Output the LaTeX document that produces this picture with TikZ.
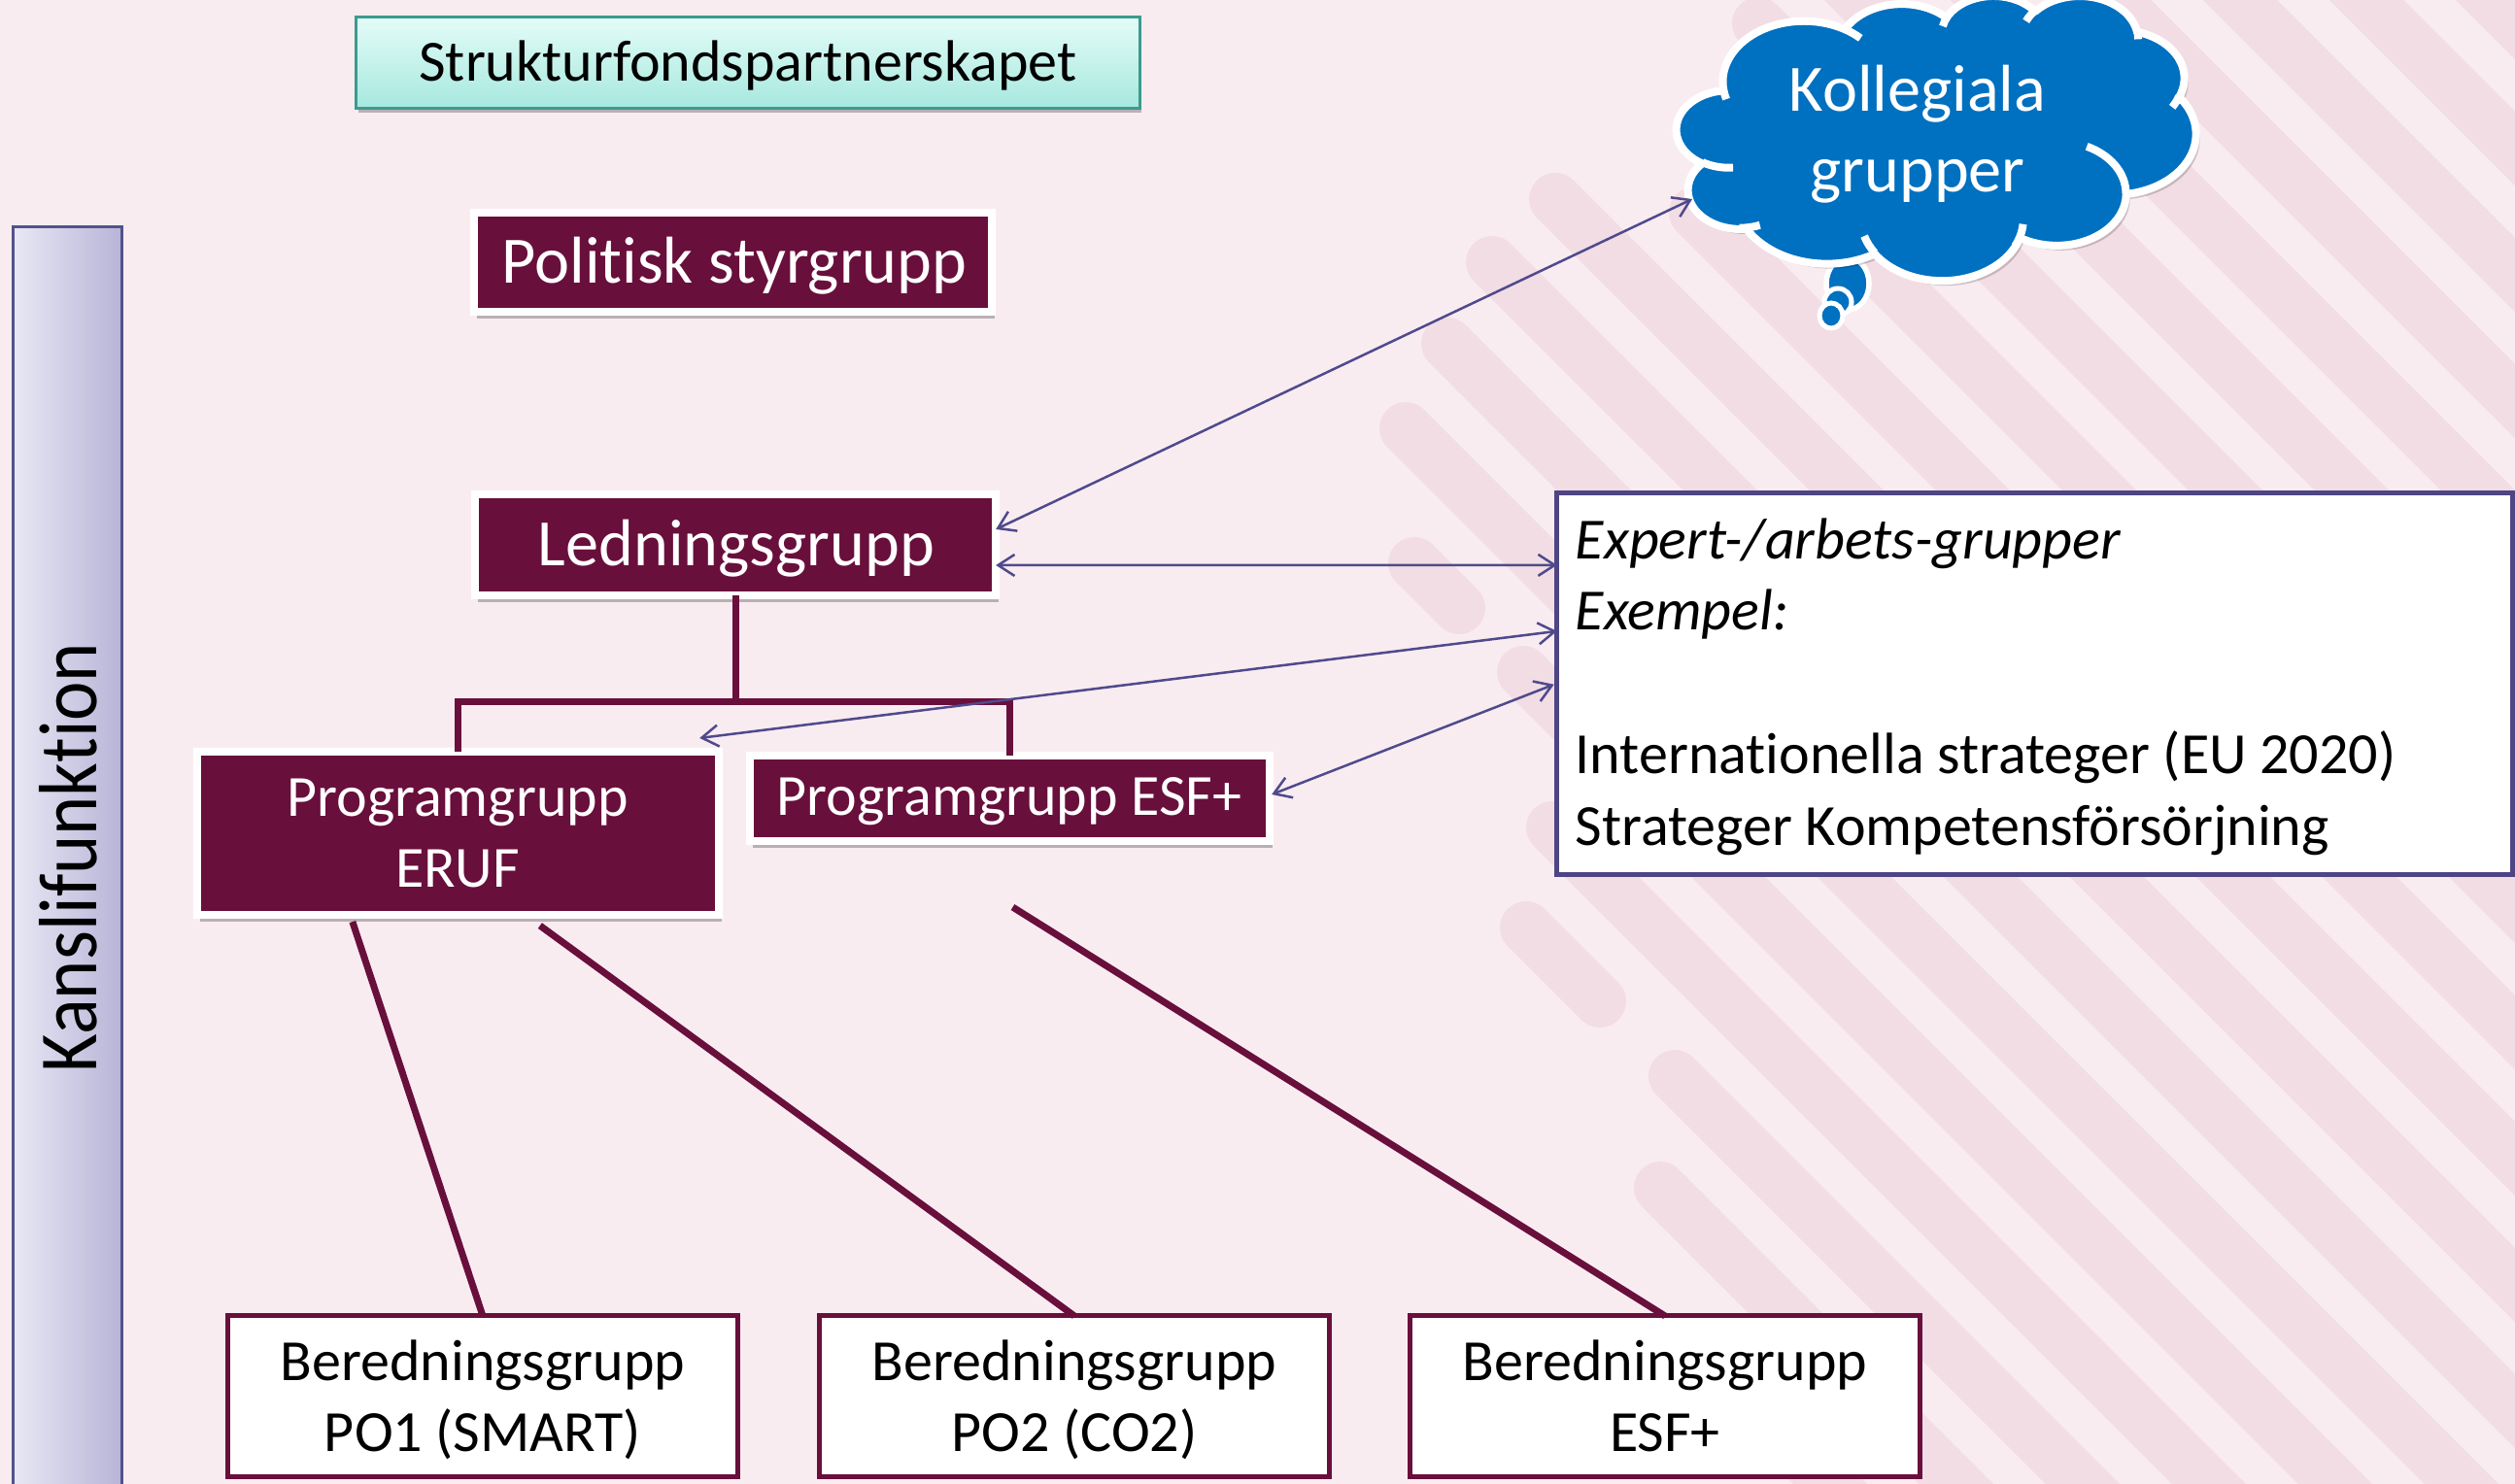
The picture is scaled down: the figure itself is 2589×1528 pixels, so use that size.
\documentclass[tikz,border=0pt]{standalone}
\usepackage{fontspec}
\usepackage{graphicx}
\setmainfont{Carlito}[Ligatures={NoCommon,NoContextual}]
\usetikzlibrary{arrows.meta,calc,shadows}

\definecolor{bgpink}{HTML}{F9ECF1}
\definecolor{stripec}{HTML}{F2DDE5}
\definecolor{maroonc}{HTML}{690F3C}
\definecolor{arrowc}{HTML}{4F4A8C}
\definecolor{exborder}{HTML}{4E4584}
\definecolor{kborder}{HTML}{52528A}
\definecolor{kleft}{HTML}{E8E8F4}
\definecolor{kright}{HTML}{B8B4D8}
\definecolor{sftop}{HTML}{E4FCF8}
\definecolor{sfbot}{HTML}{A6E8DE}
\definecolor{sfborder}{HTML}{3C9A8E}
\definecolor{cloudblue}{HTML}{0070C0}

% elliptical arc with OOXML-style visual angles
\newcommand\cldarc[4]{\pgfextra{\pgfmathsetmacro\cldA{atan2((#1)*sin(#3),(#2)*cos(#3))}\pgfmathsetmacro\cldB{atan2((#1)*sin((#3)+(#4)),(#2)*cos((#3)+(#4)))}\pgfmathsetmacro\cldD{mod(\cldB-\cldA+720,360)}\global\let\cldA\cldA\global\let\cldD\cldD} arc[start angle=\cldA, delta angle=\cldD, x radius=#1, y radius=#2]}

\newcommand\cldmain{(9.028,33.264) \cldarc{15.632}{21.273}{-190.4875}{123.7805} \cldarc{12.345}{16.822}{-144.1024}{89.9452} \cldarc{10.104}{13.762}{-145.8079}{99.7230} \cldarc{11.243}{15.266}{-130.9861}{117.2417} \cldarc{12.345}{16.836}{-78.7089}{109.0269} \cldarc{15.683}{21.343}{-46.2673}{130.2690} \cldarc{13.391}{18.211}{0.6250}{114.0333} \cldarc{15.630}{21.331}{22.4516}{115.1726} \cldarc{17.870}{24.405}{66.2426}{75.7110} \cldarc{10.093}{13.699}{-274.9421}{146.7356} \cldarc{10.058}{13.762}{-246.8285}{152.5189} -- cycle}

\newcommand\cldinner{(10.863,60.595) \cldarc{10.058}{13.762}{86.7420}{26.4295} (16.037,80.785) \cldarc{10.093}{13.699}{73.6105}{17.2065} (38.144,90.486) \cldarc{15.630}{21.331}{137.6242}{20.6230} (66.729,80.442) \cldarc{15.630}{21.331}{6.4533}{27.1136} (79.002,53.134) \cldarc{13.391}{18.211}{-70.2924}{70.7774} (96.755,35.542) \cldarc{12.345}{16.836}{23.6514}{16.9191} (88.713,12.560) \cldarc{11.243}{15.266}{-13.7443}{14.8534} (67.310,9.148) \cldarc{11.243}{15.266}{-149.1815}{18.1876} (51.252,10.926) \cldarc{10.104}{13.762}{-163.4943}{17.6933} (32.407,12.019) \cldarc{15.632}{21.273}{-66.7070}{12.3194} (9.553,36.549) \cldarc{15.632}{21.273}{157.6544}{11.8582}}

\begin{document}
\begin{tikzpicture}[x=0.01cm, y=-0.01cm,
  darkbox/.style={rectangle, fill=maroonc, draw=white, line width=0.8mm, inner sep=0pt, outer sep=0pt,
    drop shadow={shadow xshift=0.3mm, shadow yshift=-0.7mm, opacity=0.25, fill=black}},
  whitebox/.style={rectangle, fill=white, draw=maroonc, line width=0.5mm, inner sep=0pt, outer sep=0pt},
  conn/.style={draw=maroonc, line width=0.7mm},
  link/.style={draw=arrowc, line width=0.25mm, >={Straight Barb[length=1.7mm,width=2.2mm]}, <->},
  stripe/.style={draw=stripec, line width=5.4mm, line cap=round},
  wtxt/.style={text=white, inner sep=0pt, anchor=base},
  btxt/.style={text=black, inner sep=0pt, anchor=base},
  fsix/.style={font=\fontsize{17.07}{20.5}\selectfont},
  fbig/.style={font=\fontsize{19.4}{23.3}\selectfont},
  cloudline/.style={draw=white, line width=0.8mm}
]
\useasboundingbox (0,0) rectangle (2589,1528);
\clip (0,0) rectangle (2589,1528);
\fill[bgpink] (0,0) rectangle (2589,1528);

% diagonal stripes
\foreach \c/\xs in {356/1800, 486/1709, 616/1724, 746/1598, 876/1568, 1006/1447, 1136/1490, 1266/1536, 1396/1601, 1526/1745, 1656/1790, 1786/1810, 1916/1876, 2046/2006, 2176/2136, 2306/2266, 2436/2396, 2566/2526}
  \draw[stripe] (\xs,\xs-\c) -- (\xs+1800,\xs+1800-\c);
\draw[stripe] (1571,955) -- (1647,1031);
\draw[stripe] (1456,580) -- (1502,626);

% Kansli bar
\node[rectangle, left color=kleft, right color=kright, draw=kborder, line width=0.3mm, inner sep=0pt, outer sep=0pt,
  minimum width=1.12cm, minimum height=13.11cm] (kb) at (69.5,889.5) {};

% boxes
\node[rectangle, top color=sftop, bottom color=sfbot, draw=sfborder, line width=0.3mm, inner sep=0pt, outer sep=0pt,
  minimum width=8.06cm, minimum height=0.93cm,
  drop shadow={shadow xshift=0.2mm, shadow yshift=-0.5mm, opacity=0.25, fill=black}] (sf) at (770,64.5) {};
\node[darkbox, minimum width=5.33cm, minimum height=1.02cm] (ps) at (754.5,270) {};
\node[darkbox, minimum width=5.36cm, minimum height=1.04cm] (lg) at (757,561) {};
\node[darkbox, minimum width=5.37cm, minimum height=1.68cm] (pe) at (471.5,858) {};
\node[darkbox, minimum width=5.35cm, minimum height=0.88cm] (pf) at (1039.5,822) {};
\node[whitebox, minimum width=5.24cm, minimum height=1.65cm] (b1) at (497,1437.5) {};
\node[whitebox, minimum width=5.24cm, minimum height=1.65cm] (b2) at (1106,1437.5) {};
\node[whitebox, minimum width=5.24cm, minimum height=1.65cm] (b3) at (1714,1437.5) {};
\node[rectangle, fill=white, draw=exborder, line width=0.5mm, inner sep=0pt, outer sep=0pt,
  minimum width=9.83cm, minimum height=3.925cm] (ex) at (2094.5,703.75) {};

% maroon connectors
\coordinate (hj) at (757,722);
\draw[conn] (lg.south) -- (hj);
\draw[conn] (pe.north) |- (hj) -| (pf.north);
\draw[conn] ($(pe.south west)+(160,7)$) -- (b1.north);
\draw[conn] ($(pe.south west)+(353,11)$) -- (b2.north);
\draw[conn] ($(pf.south)+(3,68)$) -- (b3.north);

% thought cloud
\draw[fill=cloudblue, draw=white, line width=0.55mm] (1902,292) ellipse [x radius=22, y radius=27];
\draw[fill=cloudblue, draw=white, line width=0.5mm] (1892,311) ellipse [x radius=14, y radius=14];
\draw[fill=cloudblue, draw=white, line width=0.5mm] (1885,325) ellipse [x radius=12, y radius=13];
\begin{scope}[shift={(1726,-5)}, x=0.0534cm, y=-0.0293cm]
  \fill[black, opacity=0.18, shift={(0.75,1.7)}] \cldmain;
  \path[fill=cloudblue, cloudline, line join=round] \cldmain;
  \path[cloudline] \cldinner;
\end{scope}
\coordinate (cl) at (1742,205);

% blue arrows
\draw[link] ($(lg.north east)+(0,36)$) -- (cl);
\draw[link] ($(lg.north east)+(0,73)$) -- ($(ex.north west)+(0,74.5)$);
\draw[link] ($(pe.north east)+(-20,-14)$) -- ($(ex.north west)+(0,142.5)$);
\draw[link] ($(pf.east)+(2,-4)$) -- ($(ex.west)+(-3,1)$);

% texts
\node[btxt, rotate=90, font=\fontsize{24.2}{29}\selectfont] (kbt) at (99,883) {\scalebox{0.9}[1]{Kanslifunktion}};
\node[btxt, fsix] (sft) at (770,84) {Strukturfondspartnerskapet};
\node[wtxt, fbig] (pst) at (756,292) {Politisk styrgrupp};
\node[wtxt, fbig] (lgt) at (758,583) {Ledningsgrupp};
\node[wtxt, fsix] (pet1) at (471,840) {Programgrupp};
\node[wtxt, fsix] (pet2) at (471,913) {ERUF};
\node[wtxt, fsix] (pft) at (1039,839) {Programgrupp ESF+};
\node[btxt, fsix] (b1t1) at (497,1421) {Beredningsgrupp};
\node[btxt, fsix] (b1t2) at (497,1494) {PO1 (SMART)};
\node[btxt, fsix] (b2t1) at (1106,1421) {Beredningsgrupp};
\node[btxt, fsix] (b2t2) at (1106,1494) {PO2 (CO2)};
\node[btxt, fsix] (b3t1) at (1714,1421) {Beredningsgrupp};
\node[btxt, fsix] (b3t2) at (1714,1494) {ESF+};
\node[btxt, fsix, anchor=base west] (ext1) at (1621,575) {\itshape Expert-/arbets-grupper};
\node[btxt, fsix, anchor=base west] (ext2) at (1621,648) {\itshape Exempel:};
\node[btxt, fsix, anchor=base west] (ext3) at (1621,796) {Internationella strateger (EU 2020)};
\node[btxt, fsix, anchor=base west] (ext4) at (1621,870) {Strateger Kompetensförsörjning};
\node[wtxt, fbig] (ck1) at (1974,115) {Kollegiala};
\node[wtxt, fbig] (ck2) at (1974,198) {grupper};
\end{tikzpicture}
\end{document}
